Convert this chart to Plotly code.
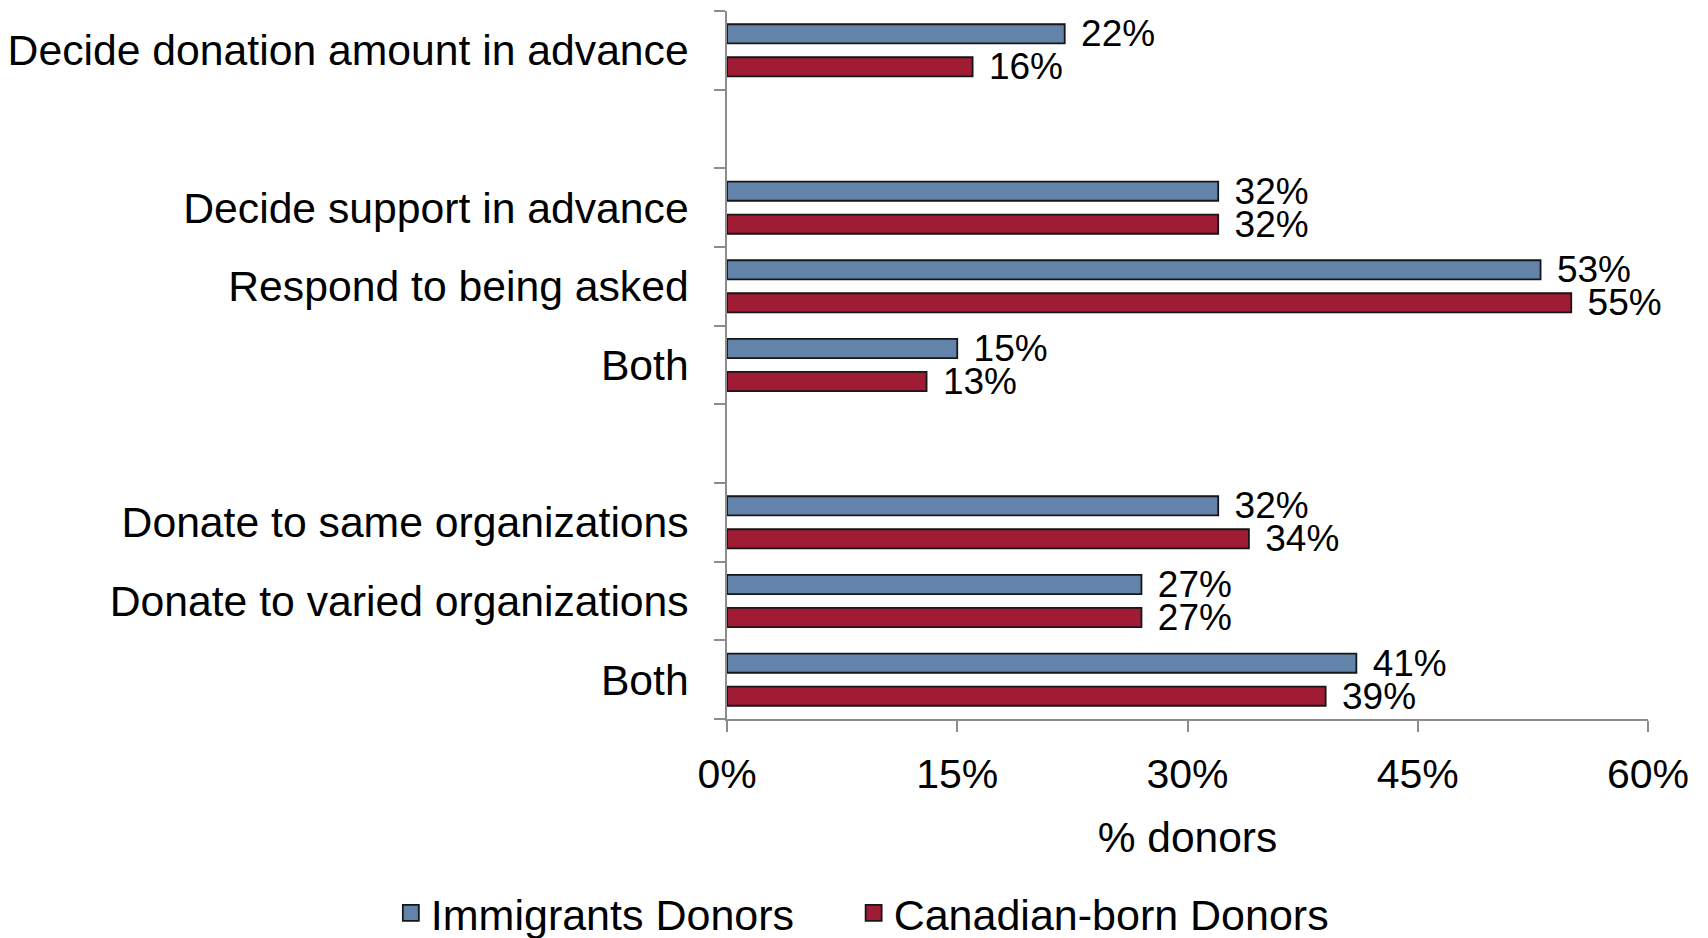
import plotly.graph_objects as go

# Survey items, grouped into three blocks separated by spacer rows
groups = [
    ["Decide donation amount in advance"],
    ["Decide support in advance", "Respond to being asked", "Both"],
    ["Donate to same organizations", "Donate to varied organizations", "Both"],
]
immigrants = [22, 32, 53, 15, 32, 27, 41]
canadian_born = [16, 32, 55, 13, 34, 27, 39]

x_ticks = [0, 15, 30, 45, 60]
x_tick_labels = ["0%", "15%", "30%", "45%", "60%"]
x_title = "% donors"
series_names = ["Immigrants Donors", "Canadian-born Donors"]

BLUE = "#6383AB"
RED = "#A01B34"
EDGE = "#161616"
AXIS = "#8C8C8C"
FONT = "Liberation Sans"

# Build the row list with unique keys (spacers and the repeated "Both")
rows, labels, imm_vals, can_vals = [], [], [], []
k = 0
for gi, items in enumerate(groups):
    if gi > 0:
        rows.append("spacer_%d" % gi)
        labels.append("")
        imm_vals.append(None)
        can_vals.append(None)
    for item in items:
        rows.append("row_%d" % k)
        labels.append(item)
        imm_vals.append(immigrants[k])
        can_vals.append(canadian_born[k])
        k += 1


def value_labels(vals):
    # small leading gap between bar end and its label
    return ["" if v is None else "\u00a0\u200a%d%%" % v for v in vals]


fig = go.Figure()
series = [(series_names[0], imm_vals, BLUE, "legend"),
          (series_names[1], can_vals, RED, "legend2")]
for name, vals, color, leg in series:
    fig.add_trace(go.Bar(
        x=vals, y=rows, orientation="h", name=name,
        marker=dict(color=color, line=dict(color=EDGE, width=1.8)),
        text=value_labels(vals), textposition="outside",
        textfont=dict(family=FONT, size=37, color="black"),
        constraintext="none", cliponaxis=False, showlegend=False,
        hoverinfo="skip",
    ))
    # larger square swatch for the legend
    fig.add_trace(go.Scatter(
        x=[None], y=[None], mode="markers", name=name, legend=leg,
        marker=dict(symbol="square", size=20, color=color,
                    line=dict(color=EDGE, width=1.8)),
    ))

legend_style = dict(orientation="h", xanchor="left", y=-0.274,
                    yanchor="middle", itemwidth=30,
                    font=dict(family=FONT, size=43, color="black"))

fig.update_layout(
    width=1708, height=938,
    margin=dict(l=727, r=60, t=11, b=219, autoexpand=False),
    paper_bgcolor="white", plot_bgcolor="white",
    font=dict(family=FONT, size=42.7, color="black"),
    barmode="group", bargap=0.16, bargroupgap=0.42,
    legend=dict(x=-0.365, **legend_style),
    legend2=dict(x=0.1375, **legend_style),
)
fig.update_xaxes(
    range=[0, 60], tickvals=x_ticks, ticktext=x_tick_labels,
    tickfont=dict(size=41),
    showline=True, linecolor=AXIS, linewidth=1.5,
    ticks="outside", ticklen=11, tickcolor=AXIS, tickwidth=1.5,
    showgrid=False, zeroline=False, ticklabelstandoff=7,
    title=dict(text=x_title, standoff=26, font=dict(size=42.5)),
)
fig.update_yaxes(
    type="category", categoryorder="array", categoryarray=rows,
    tickvals=rows, ticktext=labels, tickson="boundaries",
    autorange="reversed",
    showline=True, linecolor=AXIS, linewidth=1.5,
    ticks="outside", ticklen=11, tickcolor=AXIS, tickwidth=1.5,
    showgrid=False, zeroline=False, ticklabelstandoff=28,
)

fig.write_html("out.html")
